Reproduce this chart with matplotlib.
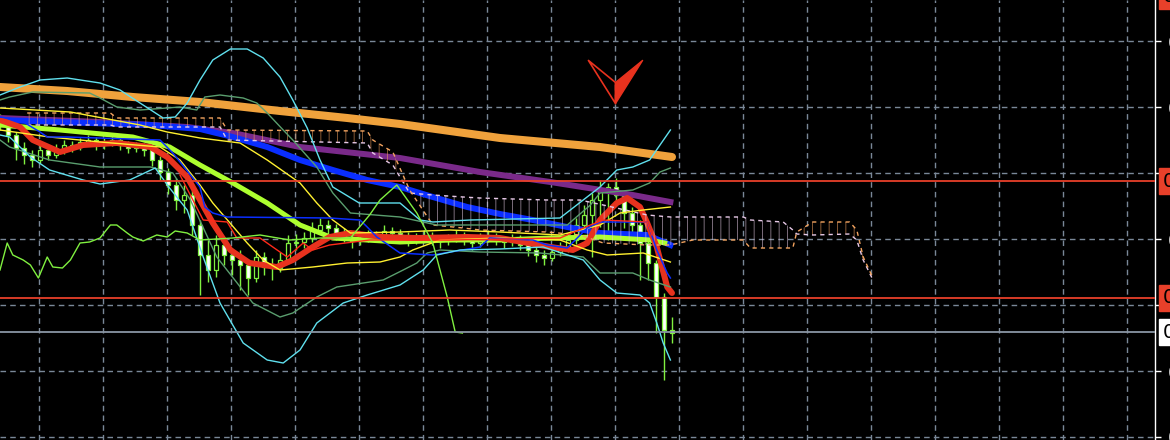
# plot.py
# MT4-style chart with moving averages, bands, ichimoku cloud and candles.

import numpy as np
import matplotlib
matplotlib.use("Agg")
import matplotlib.pyplot as plt
from matplotlib.path import Path
from matplotlib.transforms import blended_transform_factory

# ---- data (prices in 1e-4 units, x in bar numbers) ----
opens = [7280, 7275, 7265, 7252, 7245, 7240, 7250, 7245, 7250, 7255, 7253, 7258, 7260, 7255, 7257,
         7260, 7255, 7252, 7254, 7250, 7240, 7228, 7215, 7200, 7205, 7175, 7145, 7130, 7155, 7145,
         7140, 7135, 7122, 7143, 7133, 7132, 7140, 7157, 7158, 7162, 7170, 7175, 7172, 7167, 7163,
         7159, 7162, 7165, 7163, 7169, 7167, 7164, 7160, 7162, 7164, 7161, 7159, 7162, 7164, 7160,
         7157, 7162, 7164, 7160, 7158, 7162, 7155, 7150, 7145, 7142, 7148, 7152, 7160, 7175, 7185,
         7200, 7210, 7213, 7205, 7187, 7175, 7157, 7137, 7103, 7070]
highs = [7286, 7279, 7268, 7258, 7250, 7256, 7254, 7256, 7260, 7259, 7262, 7265, 7263, 7262, 7266,
         7263, 7259, 7258, 7257, 7253, 7244, 7232, 7222, 7215, 7210, 7180, 7160, 7165, 7160, 7152,
         7150, 7140, 7150, 7148, 7142, 7148, 7165, 7166, 7168, 7178, 7182, 7180, 7176, 7172, 7168,
         7168, 7170, 7169, 7175, 7173, 7171, 7168, 7167, 7170, 7168, 7165, 7166, 7170, 7168, 7164,
         7167, 7170, 7167, 7164, 7166, 7165, 7158, 7155, 7150, 7155, 7158, 7166, 7182, 7195, 7207,
         7220, 7217, 7222, 7208, 7193, 7180, 7163, 7140, 7107, 7083]
lows = [7270, 7258, 7240, 7236, 7233, 7237, 7240, 7242, 7246, 7248, 7250, 7254, 7250, 7251, 7254,
        7250, 7247, 7248, 7244, 7234, 7220, 7206, 7190, 7187, 7165, 7105, 7118, 7123, 7135, 7125,
        7110, 7105, 7118, 7125, 7120, 7128, 7136, 7150, 7152, 7158, 7166, 7165, 7160, 7158, 7152,
        7155, 7158, 7158, 7160, 7162, 7158, 7154, 7156, 7158, 7155, 7152, 7155, 7158, 7155, 7150,
        7153, 7158, 7155, 7152, 7154, 7150, 7144, 7138, 7135, 7139, 7144, 7148, 7156, 7170, 7143,
        7173, 7160, 7195, 7172, 7165, 7120, 7120, 7067, 7020, 7057]
closes = [7275, 7265, 7252, 7245, 7240, 7250, 7245, 7250, 7255, 7253, 7258, 7260, 7255, 7257, 7260,
          7255, 7252, 7254, 7250, 7240, 7228, 7215, 7200, 7205, 7175, 7145, 7130, 7155, 7145, 7140,
          7135, 7122, 7143, 7133, 7132, 7140, 7157, 7158, 7162, 7170, 7175, 7172, 7167, 7163, 7159,
          7162, 7165, 7163, 7169, 7167, 7164, 7160, 7162, 7164, 7161, 7159, 7162, 7164, 7160, 7157,
          7162, 7164, 7160, 7158, 7162, 7155, 7150, 7145, 7142, 7148, 7152, 7160, 7175, 7185, 7200,
          7210, 7213, 7205, 7187, 7175, 7157, 7137, 7103, 7070, 7067]

orange_x = [0, 8.4, 16.6, 25, 35, 43.4, 50, 62.5, 75, 84]
orange_y = [7313, 7309, 7303, 7298, 7289, 7282, 7276, 7262, 7253, 7243]

purple_x = [0, 12.5, 23.4, 29.1, 37.5, 50, 60, 68.8, 79.1, 83.8]
purple_y = [7282, 7278, 7273, 7267, 7253, 7242, 7228, 7218, 7205, 7198]

blue_x = [0, 7.5, 18.8, 25, 29.1, 33.4, 37.5, 41.6, 45.9, 50, 54.1, 58.4, 62.5, 66.6, 70.9, 75,
          80.9, 83.8]
blue_y = [7280, 7278, 7275, 7271, 7263, 7253, 7240, 7230, 7220, 7213, 7203, 7193, 7186, 7180, 7173,
          7167, 7165, 7155]

lime_x = [0, 7.5, 16.6, 21.2, 25, 29.1, 33.4, 37.5, 41.6, 50, 56.2, 62.5, 68.8, 75, 81.2, 83.1]
lime_y = [7275, 7270, 7263, 7253, 7235, 7217, 7197, 7175, 7162, 7158, 7160, 7160, 7162, 7163, 7160,
          7157]

red_x = [0, 2.5, 4.1, 7.5, 10.4, 14.6, 18.8, 20.9, 23.4, 25, 26.6, 28.8, 31.2, 34.6, 36.6, 39.1,
         41.2, 43.8, 47.9, 52.1, 58.4, 62.5, 68.8, 71.6, 73.4, 75, 77.1, 78.4, 80, 80.9, 82.1, 83.4, 84]
red_y = [7280, 7273, 7260, 7248, 7255, 7257, 7253, 7243, 7223, 7200, 7177, 7150, 7137, 7133, 7140,
         7153, 7163, 7167, 7163, 7162, 7163, 7162, 7153, 7150, 7157, 7180, 7197, 7202, 7193, 7177,
         7153, 7113, 7107]

bb_up_x = [0, 2.5, 5, 8.4, 12.5, 15, 17.5, 20.4, 21.9, 23.4, 25, 26.6, 28.8, 30.9, 32.9, 35, 36.6,
           38.4, 40, 41.6, 44.9, 50, 52.5, 54.1, 58.8, 70, 72.9, 75, 77.1, 79.1, 81.2, 82.5, 83.8]
bb_up_y = [7305, 7313, 7320, 7322, 7317, 7310, 7297, 7282, 7283, 7297, 7320, 7340, 7351, 7351, 7342,
           7323, 7300, 7272, 7240, 7213, 7197, 7197, 7180, 7178, 7180, 7182, 7200, 7213, 7230, 7233,
           7240, 7255, 7270]
bb_lo_x = [0, 1.2, 3.8, 6.2, 10.4, 12.5, 16.2, 19.4, 21.2, 23.4, 25.4, 27.5, 30.4, 33.4, 35.4, 37.5,
           39.6, 42.9, 45.9, 50, 52.9, 54.6, 57.5, 62.5, 67.9, 72.9, 75, 77.1, 80, 81.2, 82.1, 82.9,
           83.8]
bb_lo_y = [7265, 7263, 7243, 7230, 7220, 7216, 7220, 7232, 7212, 7190, 7143, 7097, 7057, 7040, 7037,
           7050, 7077, 7097, 7105, 7115, 7130, 7145, 7150, 7151, 7153, 7140, 7120, 7107, 7105, 7097,
           7077, 7057, 7040]

env_up_x = [0, 1.2, 4.1, 11.2, 12.5, 14.6, 17.5, 22.5, 24.6, 25.6, 27.5, 30.4, 32.1, 33.4, 35.4,
            36.6, 39.6, 41.6, 43.8, 50, 54.6, 70.9, 73.8, 75, 79.1, 81.2, 82.5, 83.8]
env_up_y = [7300, 7303, 7308, 7307, 7302, 7293, 7290, 7293, 7290, 7303, 7305, 7302, 7297, 7287, 7270,
            7260, 7233, 7207, 7187, 7183, 7175, 7175, 7195, 7207, 7210, 7217, 7228, 7232]
env_lo_x = [0, 1.2, 6.2, 12.5, 18.8, 21.6, 23.8, 27.1, 31.6, 35, 36.6, 39.6, 42.1, 47.9, 50.4, 52.1,
            53.4, 55, 60, 67.5, 72.9, 75, 79.1, 81.2, 83.8]
env_lo_y = [7260, 7253, 7240, 7233, 7233, 7227, 7200, 7143, 7097, 7083, 7087, 7103, 7113, 7120, 7130,
            7137, 7147, 7150, 7148, 7147, 7143, 7127, 7127, 7120, 7113]

yel_up_x = [0, 8.8, 17.5, 20.9, 25, 30, 33.4, 37.5, 39.6, 41.6, 43.8, 50, 56.2, 62.5, 70, 75, 77.5,
            80.4, 83.8]
yel_up_y = [7292, 7288, 7275, 7268, 7262, 7257, 7240, 7217, 7197, 7180, 7167, 7168, 7170, 7168, 7165,
            7175, 7187, 7190, 7193]
yel_lo_x = [0, 6.2, 12.5, 20, 22.5, 25, 26.6, 30.9, 32.9, 35, 39.1, 43.4, 47.5, 50, 51.6, 55, 62.5,
            70, 73.4, 75.9, 80.4, 83.8]
yel_lo_y = [7270, 7263, 7258, 7253, 7240, 7215, 7197, 7157, 7140, 7130, 7133, 7137, 7138, 7143, 7150,
            7160, 7162, 7160, 7150, 7145, 7147, 7138]

thin_blue_x = [0, 2.5, 5, 5.9, 8.4, 20, 21.6, 23.8, 25, 25.6, 26.6, 28.4, 41.2, 45, 45.9, 47.1, 50,
               54.1, 60, 61.2, 66.6, 68.4, 70.9, 73.4, 75, 80.9, 82.1, 83.4, 83.8]
thin_blue_y = [7283, 7280, 7268, 7263, 7263, 7260, 7247, 7225, 7213, 7193, 7187, 7183, 7182, 7180,
               7173, 7163, 7147, 7145, 7153, 7162, 7160, 7155, 7152, 7172, 7178, 7178, 7150, 7127, 7122]

thin_red_x = [22.5, 25.4, 28.4, 29.6, 32.5, 34.1, 35.9, 37.9, 39.1, 41.2, 46.2, 56.2, 70, 73.8, 75.4,
              80.9, 81.5]
thin_red_y = [7225, 7180, 7178, 7162, 7162, 7153, 7143, 7157, 7150, 7155, 7160, 7160, 7162, 7175,
              7180, 7178, 7165]

chikou_x = [0, 0.9, 1.6, 2.9, 3.8, 4.8, 5.9, 6.6, 7.8, 8.8, 10, 11.2, 12.5, 13.8, 14.6, 15.9, 16.6,
            17.9, 19.6, 20.9, 21.9, 23.4, 25, 29.1, 32.5, 36.2, 40, 43.8, 46.2, 47.5, 49.6, 52.1,
            54.1, 55.9, 56.9, 57.8]
chikou_y = [7130, 7157, 7145, 7140, 7135, 7122, 7143, 7133, 7132, 7140, 7157, 7158, 7162, 7175, 7175,
            7167, 7163, 7159, 7165, 7163, 7169, 7167, 7160, 7162, 7165, 7160, 7162, 7162, 7185, 7200,
            7215, 7187, 7157, 7103, 7068, 7067]

cloud_x = [3.4, 13.8, 14.6, 23.8, 27.5, 28.4, 45.9, 46.6, 49.1, 51.2, 54.1, 57.9, 60, 68.4, 72.5,
           75.4, 80.9, 83.8, 86.6, 92.9, 93.8, 97.9, 99.1, 99.6, 101.6, 106.2, 107.1, 107.9, 109]
span_a = [7275, 7275, 7273, 7273, 7273, 7260, 7257, 7247, 7235, 7207, 7205, 7203, 7202, 7200, 7200,
          7195, 7185, 7183, 7183, 7183, 7180, 7178, 7170, 7166, 7165, 7166, 7160, 7140, 7122]
span_b = [7287, 7287, 7282, 7282, 7282, 7270, 7269, 7260, 7248, 7210, 7175, 7172, 7170, 7168, 7165,
          7157, 7155, 7155, 7160, 7160, 7152, 7152, 7152, 7168, 7178, 7178, 7170, 7143, 7124]

grid_prices = [7359, 7293, 7227, 7161, 7095, 7029, 6963]
red_levels = [7219, 7102]
bid_level = 7068
top_label_level = 7404
sell_bar, sell_price = 76.9, 7318


def p(values):
    return np.array(values) / 10000.0


BG = "black"
GRID = "#7a8898"
LIME = "#80f040"

fig = plt.figure(figsize=(11.7, 4.4), dpi=100, facecolor=BG)
ax = fig.add_axes([0, 0, 1155 / 1170, 1], facecolor=BG)
ax.set_xlim(0, 144.375)
ax.set_ylim(0.6960, 0.7400)

# grid
for gx in np.arange(4.875, 144, 8):
    ax.axvline(gx, color=GRID, lw=1.0, ls=(0, (4, 3)), zorder=0)
for gp in p(grid_prices):
    ax.axhline(gp, color=GRID, lw=1.0, ls=(0, (4, 3)), zorder=0)

# candles
bars = np.arange(len(closes))
o, h, l, c = p(opens), p(highs), p(lows), p(closes)
ax.vlines(bars, l, h, color=LIME, lw=1.0, zorder=1)
faces = ["black" if cc > oo else "white" for oo, cc in zip(o, c)]
ax.bar(bars, np.maximum(np.abs(c - o), 0.00008), bottom=np.minimum(o, c), width=0.6,
       color=faces, edgecolor=LIME, linewidth=0.9, zorder=1.5)

# thick moving averages
ax.plot(orange_x, p(orange_y), color="#f0a23c", lw=5.8, solid_capstyle="round", zorder=2)
ax.plot(purple_x, p(purple_y), color="#7a2a8a", lw=4.3, zorder=2.1)
ax.plot(blue_x, p(blue_y), color="#0a2eff", lw=4.3, zorder=2.2)
ax.plot(lime_x, p(lime_y), color="#adff2f", lw=3.6, zorder=2.3)
ax.plot(red_x, p(red_y), color="#e8321e", lw=4.3, solid_capstyle="round", zorder=2.4)

# ichimoku cloud
cx = np.array(cloud_x)
sa, sb = p(span_a), p(span_b)
plt.rcParams["hatch.linewidth"] = 0.7
ax.fill_between(cx, sa, sb, where=sa >= sb, interpolate=True, facecolor="none",
                edgecolor=(0.88, 0.78, 0.88, 0.55), hatch="||", lw=0, zorder=2.5)
ax.fill_between(cx, sa, sb, where=sb > sa, interpolate=True, facecolor="none",
                edgecolor=(0.96, 0.64, 0.38, 0.55), hatch="||", lw=0, zorder=2.5)
ax.plot(cx, sa, color="#e6c8e6", lw=1.0, ls=(0, (3, 3)), zorder=2.6)
ax.plot(cx, sb, color="#f4a460", lw=1.0, ls=(0, (3, 3)), zorder=2.6)

# thin band lines
ax.plot(env_up_x, p(env_up_y), color="#5a9e6e", lw=1.0, zorder=3)
ax.plot(env_lo_x, p(env_lo_y), color="#5a9e6e", lw=1.0, zorder=3)
ax.plot(yel_up_x, p(yel_up_y), color="#fff030", lw=1.0, zorder=3)
ax.plot(yel_lo_x, p(yel_lo_y), color="#fff030", lw=1.0, zorder=3)
ax.plot(thin_blue_x, p(thin_blue_y), color="#0a2eff", lw=1.1, zorder=3)
ax.plot(thin_red_x, p(thin_red_y), color="#ff2a1a", lw=1.0, zorder=3)
ax.plot(bb_up_x, p(bb_up_y), color="#60e0ee", lw=1.0, zorder=3.1)
ax.plot(bb_lo_x, p(bb_lo_y), color="#60e0ee", lw=1.0, zorder=3.1)
ax.plot(chikou_x, p(chikou_y), color=LIME, lw=1.0, zorder=3.2)

# horizontal levels
for lv in p(red_levels):
    ax.axhline(lv, color="#e8402a", lw=1.3, zorder=4)
ax.axhline(bid_level / 10000.0, color="#8a96a4", lw=1.3, zorder=4)

# sell arrow (left half outlined, right half filled)
left_half = Path([(-27, 22), (0, 0), (0, -21), (-27, 22)],
                 [Path.MOVETO, Path.LINETO, Path.LINETO, Path.CLOSEPOLY])
right_half = Path([(27, 22), (0, 0), (0, -21), (27, 22)],
                  [Path.MOVETO, Path.LINETO, Path.LINETO, Path.CLOSEPOLY])
ax.plot([sell_bar], [sell_price / 10000.0], marker=left_half, ms=39, mfc="none",
        mec="#e8321e", mew=1.2, ls="none", zorder=5)
ax.plot([sell_bar], [sell_price / 10000.0], marker=right_half, ms=39, mfc="#e8321e",
        mec="#e8321e", mew=1.0, ls="none", zorder=5)

# right price axis; the tick labels hidden under the line labels are left empty
for side in ["top", "left", "bottom"]:
    ax.spines[side].set_visible(False)
ax.spines["right"].set_color("white")
ax.spines["right"].set_linewidth(1.0)
ax.set_xticks([])
ax.yaxis.tick_right()
ax.set_yticks(p(grid_prices))
hidden = [7227, 7095]
ax.set_yticklabels(["" if v in hidden else f"{v / 10000.0:.4f}" for v in grid_prices])
ax.tick_params(axis="y", colors="white", length=4, width=1, labelsize=14, pad=5)

trans = blended_transform_factory(ax.transAxes, ax.transData)
for lv in red_levels + [top_label_level]:
    ax.text(1.0069, lv / 10000.0, f"{lv / 10000.0:.4f}", transform=trans, ha="left", va="center",
            fontsize=14, color="black", clip_on=False, zorder=6,
            bbox=dict(boxstyle="square,pad=0.2", facecolor="#e8402a", edgecolor="#e8402a"))
ax.text(1.0069, bid_level / 10000.0, f"{bid_level / 10000.0:.4f}", transform=trans, ha="left",
        va="center", fontsize=14, color="black", clip_on=False, zorder=6,
        bbox=dict(boxstyle="square,pad=0.2", facecolor="white", edgecolor="white"))

fig.savefig("out.png", dpi=100, facecolor=BG)
